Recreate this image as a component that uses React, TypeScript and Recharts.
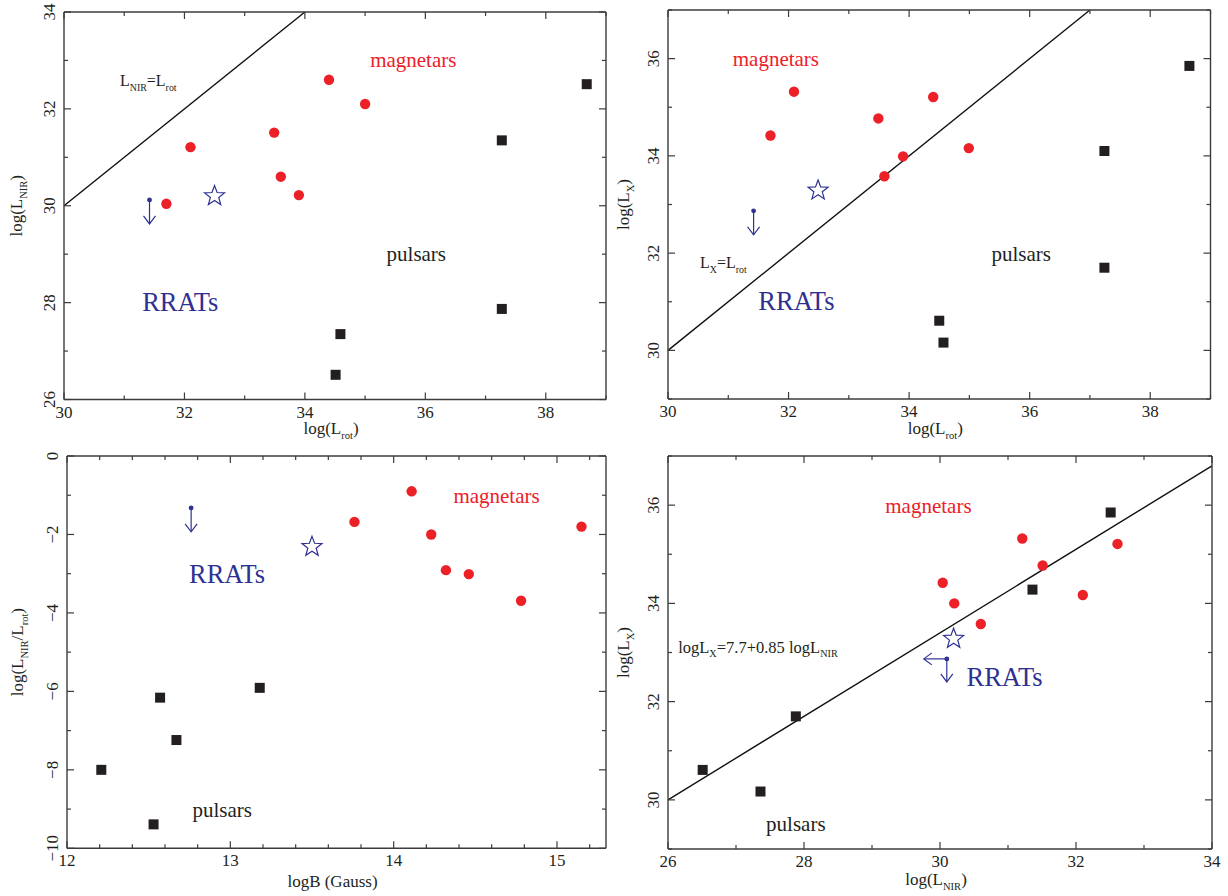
import type { ReactNode } from "react"
import { ScatterChart, Scatter, XAxis, YAxis, ReferenceLine, ReferenceDot } from "recharts"

const RED = "#ec2027"
const BLUE = "#2e3192"
const INK = "#231f20"
const FRAME = "#3c3c3c"
const SERIF = "'Liberation Serif', 'Times New Roman', serif"
const MAJOR_TICK = 7
const MINOR_TICK = 4

// panel a: log(Lrot) vs log(LNIR)
const aMagX = [31.7, 32.1, 33.49, 33.6, 33.9, 34.4, 35.0]
const aMagY = [30.04, 31.21, 31.51, 30.6, 30.22, 32.6, 32.1]
const aPsrX = [38.68, 37.27, 37.27, 34.59, 34.51]
const aPsrY = [32.51, 31.35, 27.87, 27.35, 26.51]
const aRratX = [32.5]
const aRratY = [30.22]
const aLimX = [31.42]
const aLimY = [30.12]
const aLineX = [30, 34]
const aLineY = [30, 34]

// panel b: log(Lrot) vs log(LX)
const bMagX = [31.7, 32.09, 33.49, 33.59, 33.9, 34.4, 34.99]
const bMagY = [34.42, 35.32, 34.77, 33.58, 33.99, 35.21, 34.16]
const bPsrX = [38.65, 37.24, 37.24, 34.5, 34.57]
const bPsrY = [35.85, 34.1, 31.7, 30.61, 30.16]
const bRratX = [32.49]
const bRratY = [33.31]
const bLimX = [31.42]
const bLimY = [32.87]
const bLineX = [30, 37]
const bLineY = [30, 37]

// panel c: logB vs log(LNIR/Lrot)
const cMagX = [13.76, 14.11, 14.23, 14.32, 14.46, 14.78, 15.15]
const cMagY = [-1.68, -0.9, -2.0, -2.91, -3.01, -3.69, -1.8]
const cPsrX = [12.21, 12.57, 12.67, 13.18, 12.53]
const cPsrY = [-8.0, -6.16, -7.24, -5.91, -9.39]
const cRratX = [13.5]
const cRratY = [-2.29]
const cLimX = [12.76]
const cLimY = [-1.32]

// panel d: log(LNIR) vs log(LX)
const dMagX = [30.04, 30.21, 30.6, 31.21, 31.51, 32.1, 32.61]
const dMagY = [34.42, 34.0, 33.58, 35.32, 34.77, 34.17, 35.21]
const dPsrX = [26.51, 27.36, 27.88, 31.36, 32.51]
const dPsrY = [30.61, 30.17, 31.7, 34.28, 35.85]
const dRratX = [30.2]
const dRratY = [33.3]
const dLimX = [30.1]
const dLimY = [32.87]
const dLineX = [26, 34]
const dLineY = [30, 36.8]

// ticks
const lrotTicks = [30, 31, 32, 33, 34, 35, 36, 37, 38, 39]
const lrotMajor = [30, 32, 34, 36, 38]
const lnirTicks = [26, 27, 28, 29, 30, 31, 32, 33, 34]
const lnirMajor = [26, 28, 30, 32, 34]
const lxTicks = [29, 30, 31, 32, 33, 34, 35, 36, 37]
const lxMajor = [30, 32, 34, 36]
const bTicks = [12, 12.2, 12.4, 12.6, 12.8, 13, 13.2, 13.4, 13.6, 13.8, 14, 14.2, 14.4, 14.6, 14.8, 15, 15.2]
const bMajor = [12, 13, 14, 15]
const ratioTicks = [-10, -9, -8, -7, -6, -5, -4, -3, -2, -1, 0]
const ratioMajor = [-10, -8, -6, -4, -2, 0]

const pts = (xs: number[], ys: number[]) => xs.map((x, i) => ({ x, y: ys[i] }))
const isMajor = (v: number, majors: number[]) => majors.some((m) => Math.abs(m - v) < 1e-6)
const fmt = (v: number) => (v < 0 ? "\u2212" + Math.abs(v) : String(v))
const tlen = (v: number, majors: number[]) => (isMajor(v, majors) ? MAJOR_TICK : MINOR_TICK)

type Seg = [string, boolean]
function rich(segs: Seg[], size: number) {
    let down = false
    return segs.map(([t, sub], i) => {
        let dy = 0
        if (sub && !down) { dy = size * 0.3; down = true }
        else if (!sub && down) { dy = -size * 0.3; down = false }
        return <tspan key={i} dy={dy} fontSize={sub ? size * 0.62 : size}>{t}</tspan>
    })
}

// shapes
const circle = (p: any) => <circle cx={p.cx} cy={p.cy} r={5.2} fill={RED} />
const square = (p: any) => <rect x={p.cx - 5} y={p.cy - 5} width={10} height={10} fill={INK} />
const star = (p: any) => {
    let d = ""
    for (let i = 0; i < 10; i++) {
        const a = -Math.PI / 2 + (i * Math.PI) / 5
        const rad = i % 2 ? 4.4 : 10.5
        d += (i ? "L" : "M") + (p.cx + rad * Math.cos(a)).toFixed(2) + "," + (p.cy + 1 + rad * Math.sin(a)).toFixed(2)
    }
    return <path d={d + "Z"} fill="none" stroke={BLUE} strokeWidth={1.2} />
}
const downArrow = (p: any) => (
    <g stroke={BLUE} strokeWidth={1.2} fill="none">
        <circle cx={p.cx} cy={p.cy} r={1.8} fill={BLUE} />
        <line x1={p.cx} y1={p.cy} x2={p.cx} y2={p.cy + 24} />
        <path d={`M${p.cx - 6},${p.cy + 16} L${p.cx},${p.cy + 24} L${p.cx + 6},${p.cy + 16}`} />
    </g>
)
const cornerArrow = (p: any) => (
    <g stroke={BLUE} strokeWidth={1.2} fill="none">
        <circle cx={p.cx} cy={p.cy} r={1.8} fill={BLUE} />
        <line x1={p.cx} y1={p.cy} x2={p.cx} y2={p.cy + 23} />
        <path d={`M${p.cx - 6},${p.cy + 15} L${p.cx},${p.cy + 23} L${p.cx + 6},${p.cy + 15}`} />
        <line x1={p.cx} y1={p.cy} x2={p.cx - 23} y2={p.cy} />
        <path d={`M${p.cx - 15},${p.cy - 6} L${p.cx - 23},${p.cy} L${p.cx - 15},${p.cy + 6}`} />
    </g>
)

// ticks pointing into the frame
const tickBottom = (majors: number[]) => (p: any) => (
    <g>
        <line x1={p.x} x2={p.x} y1={p.y} y2={p.y - tlen(p.payload.value, majors)} stroke={FRAME} strokeWidth={1.2} />
        {isMajor(p.payload.value, majors) && (
            <text x={p.x} y={p.y + 18} textAnchor="middle" fontFamily={SERIF} fontSize={17} fill={INK}>
                {fmt(p.payload.value)}
            </text>
        )}
    </g>
)
const tickLeft = (majors: number[]) => (p: any) => (
    <g>
        <line x1={p.x} x2={p.x + tlen(p.payload.value, majors)} y1={p.y} y2={p.y} stroke={FRAME} strokeWidth={1.2} />
        {isMajor(p.payload.value, majors) && (
            <text x={p.x - 9} y={p.y} transform={`rotate(-90, ${p.x - 9}, ${p.y})`} textAnchor="middle"
                fontFamily={SERIF} fontSize={17} fill={INK}>
                {fmt(p.payload.value)}
            </text>
        )}
    </g>
)
const tickTop = (majors: number[]) => (p: any) => (
    <line x1={p.x} x2={p.x} y1={p.y} y2={p.y + tlen(p.payload.value, majors)} stroke={FRAME} strokeWidth={1.2} />
)
const tickRight = (majors: number[]) => (p: any) => (
    <line x1={p.x} x2={p.x - tlen(p.payload.value, majors)} y1={p.y} y2={p.y} stroke={FRAME} strokeWidth={1.2} />
)

function note(x: number, y: number, body: ReactNode, color: string, size: number, anchor = "middle") {
    return (
        <ReferenceDot
            key={`${x}-${y}`}
            x={x}
            y={y}
            r={0}
            ifOverflow="visible"
            shape={(p: any) => (
                <text x={p.cx} y={p.cy} dy="0.33em" textAnchor={anchor} fontFamily={SERIF} fontSize={size} fill={color}>
                    {body}
                </text>
            )}
        />
    )
}

function segment(xs: number[], ys: number[]) {
    return (
        <ReferenceLine
            segment={[{ x: xs[0], y: ys[0] }, { x: xs[1], y: ys[1] }]}
            stroke="#111"
            strokeWidth={1.4}
            ifOverflow="visible"
        />
    )
}

type PanelProps = {
    box: [number, number, number, number]
    xDomain: [number, number]
    yDomain: [number, number]
    xTicks: number[]
    xMajor: number[]
    yTicks: number[]
    yMajor: number[]
    xLabel: Seg[]
    yLabel: Seg[]
    xLabelDy?: number
    yLabelDx?: number
    children: ReactNode
}

function Panel({ box, xDomain, yDomain, xTicks, xMajor, yTicks, yMajor, xLabel, yLabel, xLabelDy = 35, yLabelDx = 42, children }: PanelProps) {
    const [L, T, W, H] = box
    const axisLine = { stroke: FRAME, strokeWidth: 1.4 }
    return (
        <div style={{ position: "absolute", left: L - 60, top: T - 10 }}>
            <ScatterChart width={W + 70} height={H + 60} margin={{ top: 0, right: 0, bottom: 0, left: 0 }}>
                <XAxis type="number" dataKey="x" domain={xDomain} ticks={xTicks} interval={0} allowDataOverflow
                    height={50} tickSize={0} tickMargin={0} tickLine={false} axisLine={axisLine}
                    tick={tickBottom(xMajor)}
                    label={{
                        content: (p: any) => (
                            <text x={p.viewBox.x + p.viewBox.width / 2 - 4} y={p.viewBox.y + xLabelDy} textAnchor="middle"
                                fontFamily={SERIF} fontSize={17} fill={INK}>
                                {rich(xLabel, 17)}
                            </text>
                        ),
                    }}
                />
                <XAxis xAxisId="top" orientation="top" type="number" dataKey="x" domain={xDomain} ticks={xTicks}
                    interval={0} allowDataOverflow height={10} tickSize={0} tickMargin={0} tickLine={false}
                    axisLine={axisLine} tick={tickTop(xMajor)} />
                <YAxis type="number" dataKey="y" domain={yDomain} ticks={yTicks} interval={0} allowDataOverflow
                    width={60} tickSize={0} tickMargin={0} tickLine={false} axisLine={axisLine}
                    tick={tickLeft(yMajor)}
                    label={{
                        content: (p: any) => {
                            const cx = p.viewBox.x + p.viewBox.width - yLabelDx
                            const cy = p.viewBox.y + p.viewBox.height / 2
                            return (
                                <text x={cx} y={cy} transform={`rotate(-90, ${cx}, ${cy})`} textAnchor="middle"
                                    fontFamily={SERIF} fontSize={17} fill={INK}>
                                    {rich(yLabel, 17)}
                                </text>
                            )
                        },
                    }}
                />
                <YAxis yAxisId="right" orientation="right" type="number" dataKey="y" domain={yDomain} ticks={yTicks}
                    interval={0} allowDataOverflow width={10} tickSize={0} tickMargin={0} tickLine={false}
                    axisLine={axisLine} tick={tickRight(yMajor)} />
                {children}
            </ScatterChart>
        </div>
    )
}

export default function App() {
    return (
        <div style={{ position: "absolute", left: 0, top: 0, width: 1228, height: 896, background: "#fff" }}>
            <Panel box={[64, 11.5, 542, 387.5]} xDomain={[30, 39]} yDomain={[26, 34]}
                xTicks={lrotTicks} xMajor={lrotMajor} yTicks={lnirTicks} yMajor={lnirMajor}
                xLabel={[["log(L", false], ["rot", true], [")", false]]}
                yLabel={[["log(L", false], ["NIR", true], [")", false]]}
                xLabelDy={34} yLabelDx={42}>
                {segment(aLineX, aLineY)}
                <Scatter data={pts(aMagX, aMagY)} shape={circle} isAnimationActive={false} />
                <Scatter data={pts(aPsrX, aPsrY)} shape={square} isAnimationActive={false} />
                <Scatter data={pts(aRratX, aRratY)} shape={star} isAnimationActive={false} />
                <Scatter data={pts(aLimX, aLimY)} shape={downArrow} isAnimationActive={false} />
                {note(35.8, 33.0, "magnetars", RED, 21)}
                {note(35.85, 29.0, "pulsars", INK, 21)}
                {note(31.93, 28.0, "RRATs", BLUE, 26.5)}
                {note(31.4, 32.47, rich([["L", false], ["NIR", true], ["=L", false], ["rot", true]], 16), INK, 16)}
            </Panel>

            <Panel box={[668.3, 10, 542.5, 389]} xDomain={[30, 39]} yDomain={[29, 37]}
                xTicks={lrotTicks} xMajor={lrotMajor} yTicks={lxTicks} yMajor={lxMajor}
                xLabel={[["log(L", false], ["rot", true], [")", false]]}
                yLabel={[["log(L", false], ["X", true], [")", false]]}
                xLabelDy={35} yLabelDx={39}>
                {segment(bLineX, bLineY)}
                <Scatter data={pts(bMagX, bMagY)} shape={circle} isAnimationActive={false} />
                <Scatter data={pts(bPsrX, bPsrY)} shape={square} isAnimationActive={false} />
                <Scatter data={pts(bRratX, bRratY)} shape={star} isAnimationActive={false} />
                <Scatter data={pts(bLimX, bLimY)} shape={downArrow} isAnimationActive={false} />
                {note(31.79, 35.99, "magnetars", RED, 21)}
                {note(35.86, 31.99, "pulsars", INK, 21)}
                {note(32.13, 31.0, "RRATs", BLUE, 26.5)}
                {note(30.92, 31.69, rich([["L", false], ["X", true], ["=L", false], ["rot", true]], 16), INK, 16)}
            </Panel>

            <Panel box={[66.7, 456, 539, 392.3]} xDomain={[12, 15.3]} yDomain={[-10, 0]}
                xTicks={bTicks} xMajor={bMajor} yTicks={ratioTicks} yMajor={ratioMajor}
                xLabel={[["logB (Gauss)", false]]}
                yLabel={[["log(L", false], ["NIR", true], ["/L", false], ["rot", true], [")", false]]}
                xLabelDy={39} yLabelDx={44}>
                <Scatter data={pts(cMagX, cMagY)} shape={circle} isAnimationActive={false} />
                <Scatter data={pts(cPsrX, cPsrY)} shape={square} isAnimationActive={false} />
                <Scatter data={pts(cRratX, cRratY)} shape={star} isAnimationActive={false} />
                <Scatter data={pts(cLimX, cLimY)} shape={downArrow} isAnimationActive={false} />
                {note(14.63, -1.02, "magnetars", RED, 21)}
                {note(12.98, -3.01, "RRATs", BLUE, 26.5)}
                {note(12.95, -9.02, "pulsars", INK, 21)}
            </Panel>

            <Panel box={[668.3, 456, 544, 393]} xDomain={[26, 34]} yDomain={[29, 37]}
                xTicks={lnirTicks} xMajor={lnirMajor} yTicks={lxTicks} yMajor={lxMajor}
                xLabel={[["log(L", false], ["NIR", true], [")", false]]}
                yLabel={[["log(L", false], ["X", true], [")", false]]}
                xLabelDy={36} yLabelDx={39}>
                {segment(dLineX, dLineY)}
                <Scatter data={pts(dMagX, dMagY)} shape={circle} isAnimationActive={false} />
                <Scatter data={pts(dPsrX, dPsrY)} shape={square} isAnimationActive={false} />
                <Scatter data={pts(dRratX, dRratY)} shape={star} isAnimationActive={false} />
                <Scatter data={pts(dLimX, dLimY)} shape={cornerArrow} isAnimationActive={false} />
                {note(29.83, 35.99, "magnetars", RED, 21)}
                {note(30.95, 32.5, "RRATs", BLUE, 26.5)}
                {note(27.88, 29.5, "pulsars", INK, 21)}
                {note(26.15, 33.0, rich([["logL", false], ["X", true], ["=7.7+0.85 logL", false], ["NIR", true]], 16.5), INK, 16.5, "start")}
            </Panel>
        </div>
    )
}
